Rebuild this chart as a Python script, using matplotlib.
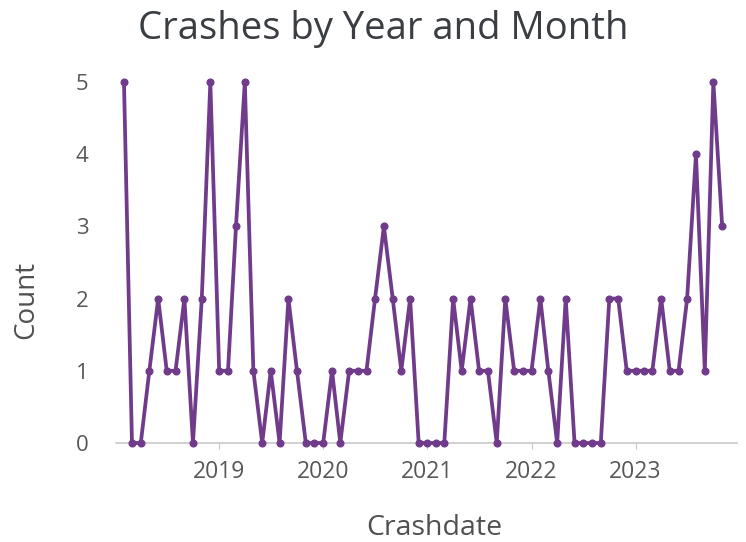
import matplotlib
matplotlib.use('Agg')

import matplotlib.pyplot as plt
import matplotlib.dates as mdates
import pandas as pd

# monthly crash counts, Feb 2018 .. Nov 2023
first_month = '2018-02-01'
counts = [5, 0, 0, 1, 2, 1, 1, 2, 0, 2,
          5, 1, 1, 3, 5, 1, 0, 1, 0, 2,
          1, 0, 0, 0, 1, 0, 1, 1, 1, 2,
          3, 2, 1, 2, 0, 0, 0, 0, 2, 1,
          2, 1, 1, 0, 2, 1, 1, 1, 2, 1,
          0, 2, 0, 0, 0, 0, 2, 2, 1, 1,
          1, 1, 2, 1, 1, 2, 4, 1, 5, 3]
months = pd.date_range(first_month, periods=len(counts), freq='MS')
year_ticks = pd.to_datetime(['2019-01-01', '2020-01-01', '2021-01-01',
                             '2022-01-01', '2023-01-01'])
yticks = [0, 1, 2, 3, 4, 5]

purple = '#703b8b'
plt.rcParams['font.family'] = ['Open Sans', 'DejaVu Sans']

fig = plt.figure(figsize=(7.46, 5.42), dpi=100)
ax = fig.add_axes([116 / 746, 1 - 443 / 542, (737 - 116) / 746, (443 - 82) / 542])

ax.plot(months, counts, color=purple, lw=2.7, marker='o', ms=4.8,
        clip_on=False, zorder=3)

ax.set_xlim(pd.Timestamp('2018-01-04'), pd.Timestamp('2023-12-23'))
ax.set_ylim(0, 5)
ax.set_xticks(year_ticks)
ax.xaxis.set_major_formatter(mdates.DateFormatter('%Y'))
ax.set_yticks(yticks)

for side in ('top', 'right', 'left'):
    ax.spines[side].set_visible(False)
ax.spines['bottom'].set_color('#c8c8c8')
ax.spines['bottom'].set_linewidth(1.2)
ax.tick_params(axis='x', length=4, color='#c8c8c8', labelsize=16.5,
               labelcolor='#585858', pad=8)
ax.tick_params(axis='y', length=0, labelsize=16, labelcolor='#585858', pad=20)

fig.text(383 / 746, 1 - 39 / 542, 'Crashes by Year and Month', ha='center',
         va='baseline', fontsize=27.5, color='#3a3e42')
fig.text(434 / 746, 1 - 535 / 542, 'Crashdate', ha='center', va='baseline',
         fontsize=20.5, color='#505050')
fig.text(26 / 746, 1 - 300 / 542, 'Count', ha='center', va='center',
         rotation=90, fontsize=20, color='#505050')

fig.savefig('out.png', dpi=100, facecolor='white')
